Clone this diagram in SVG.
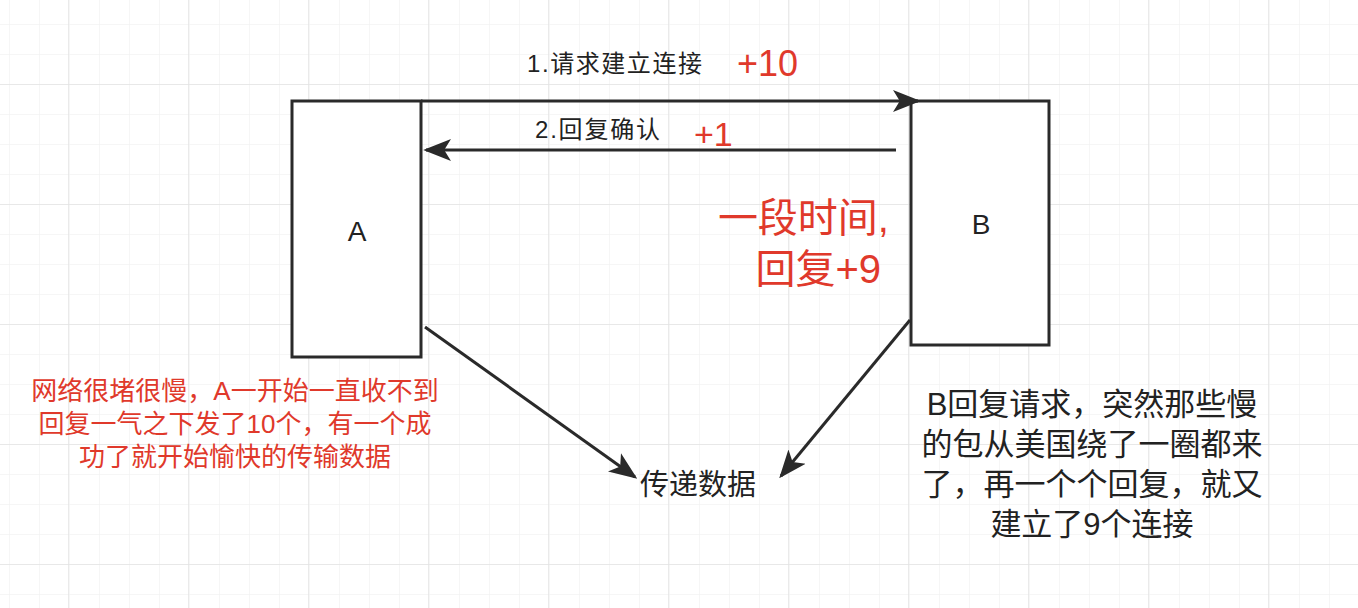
<svg xmlns="http://www.w3.org/2000/svg" width="1358" height="608" viewBox="0 0 1358 608">
<defs>
<pattern id="g" width="30" height="30" patternUnits="userSpaceOnUse" x="9" y="24"><path d="M0 0H30M0 0V30" fill="none" stroke="#eeeeee" stroke-width="1"/></pattern>
<pattern id="G" width="120" height="120" patternUnits="userSpaceOnUse" x="68" y="84"><path d="M0 0H120M0 0V120" fill="none" stroke="#e4e4e4" stroke-width="1.5"/></pattern>
<marker id="ah2" viewBox="0 0 10 10" refX="9" refY="5" markerWidth="28" markerHeight="28" markerUnits="userSpaceOnUse" orient="auto"><path d="M0 1L10 5L0 9L2.5 5Z" fill="#2a2a2a"/></marker>
</defs>
<style>
.b{fill:#fff;stroke:#2a2a2a;stroke-width:3}
.t{font-family:"Liberation Sans","Noto Sans CJK SC",sans-serif;fill:#222}
.r{font-family:"Liberation Sans","Noto Sans CJK SC",sans-serif;fill:#e0392b}
.c{stroke:#2a2a2a;stroke-width:3;fill:none;marker-end:url(#ah2)}
</style>
<rect width="1358" height="608" fill="#fff"/>
<rect width="1358" height="608" fill="url(#g)"/>
<rect width="1358" height="608" fill="url(#G)"/>
<g id="A"><rect class="b" x="292" y="101" width="129" height="256"/><text class="t" x="357" y="241" font-size="28" text-anchor="middle">A</text></g>
<g id="B"><rect class="b" x="911" y="101" width="138" height="244"/><text class="t" x="981" y="234" font-size="28" text-anchor="middle">B</text></g>
<g id="connectors">
<path class="c" d="M421 101H918"/>
<path class="c" d="M896 150H426"/>
<path class="c" d="M425 327L635 477"/>
<path class="c" d="M910 320L781 476"/>
</g>
<g id="labels">
<text class="t" x="527" y="72" font-size="24" textLength="175">1.请求建立连接</text>
<text class="r" x="737" y="76" font-size="36">+10</text>
<text class="t" x="535" y="138" font-size="24" textLength="125">2.回复确认</text>
<text class="r" x="694" y="146" font-size="34">+1</text>
<text class="r" x="889" y="232" font-size="40" text-anchor="end">一段时间,</text>
<text class="r" x="881" y="283" font-size="40" text-anchor="end">回复+9</text>
<text class="r" font-size="26" text-anchor="middle"><tspan x="235" y="400">网络很堵很慢，A一开始一直收不到</tspan><tspan x="235" y="433">回复一气之下发了10个，有一个成</tspan><tspan x="235" y="466">功了就开始愉快的传输数据</tspan></text>
<text class="t" x="698" y="495" font-size="29" text-anchor="middle">传递数据</text>
<text class="t" font-size="31" text-anchor="middle"><tspan x="1092" y="415">B回复请求，突然那些慢</tspan><tspan x="1092" y="455">的包从美国绕了一圈都来</tspan><tspan x="1092" y="495">了，再一个个回复，就又</tspan><tspan x="1092" y="535">建立了9个连接</tspan></text>
</g>
</svg>
